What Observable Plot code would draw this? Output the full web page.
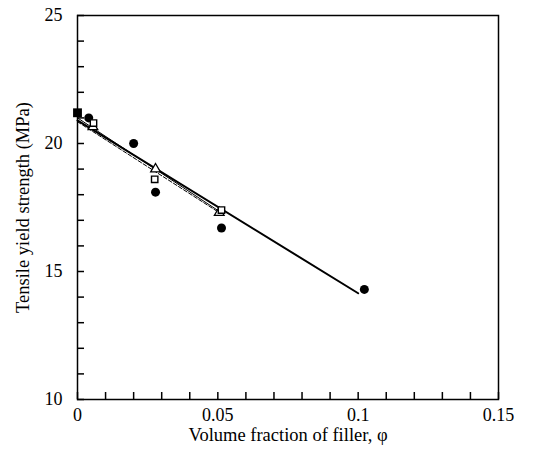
<!DOCTYPE html>
<html>
<head>
<meta charset="utf-8">
<script src="https://cdn.jsdelivr.net/npm/d3@7"></script>
<script src="https://cdn.jsdelivr.net/npm/@observablehq/plot@0.6"></script>
<style>
  html, body { margin: 0; padding: 0; background: #fff; }
  #chart svg { display: block; }
</style>
</head>
<body>
<div id="chart"></div>
<script>
// Data
const neatX = [0];
const neatY = [21.2];
const circleX = [0.004, 0.02, 0.0278, 0.0513, 0.1022];
const circleY = [21.0, 20.0, 18.1, 16.7, 14.3];
const squareX = [0.0057, 0.0275, 0.0513];
const squareY = [20.8, 18.6, 17.4];
const triangleX = [0.0055, 0.0278, 0.0505];
const triangleY = [20.65, 19.0, 17.3];
// Fitted lines (endpoints)
const fitCircleX = [0, 0.1];
const fitCircleY = [20.9, 14.15];
const fitSquareX = [0, 0.0505];
const fitSquareY = [21.0, 17.35];
const fitTriangleX = [0, 0.0505];
const fitTriangleY = [20.85, 17.3];
const xTickLabels = [0, 0.05, 0.1, 0.15];
const yTickLabels = [10, 15, 20, 25];
const xMinorTicks = d3.range(0, 16).map(i => i / 100);
const yMinorTicks = d3.range(10, 26);

const pts = (xs, ys) => xs.map((x, i) => ({x, y: ys[i]}));

const font = "'Liberation Serif', 'Times New Roman', serif";
const TICK = 7;
const xMin = xTickLabels[0], xMax = xTickLabels[xTickLabels.length - 1];
const yMin = yTickLabels[0], yMax = yTickLabels[yTickLabels.length - 1];
const plotW = 537 - 77 - 39, plotH = 476 - 15 - 77;
const tickLenY = TICK * (yMax - yMin) / plotH; // inward tick length in y units
const tickLenX = TICK * (xMax - xMin) / plotW; // inward tick length in x units

const chart = Plot.plot({
  width: 537,
  height: 476,
  marginLeft: 77,
  marginRight: 39,
  marginTop: 15,
  marginBottom: 77,
  style: {fontFamily: font, fontSize: "18px", color: "black", background: "white"},
  x: {domain: [xMin, xMax]},
  y: {domain: [yMin, yMax]},
  marks: [
    Plot.ruleX(xMinorTicks, {x: d => d, y1: yMin, y2: yMin + tickLenY, stroke: "black", strokeWidth: 1.5}),
    Plot.ruleY(yMinorTicks, {y: d => d, x1: xMin, x2: xMin + tickLenX, stroke: "black", strokeWidth: 1.5}),
    Plot.axisX({ticks: xTickLabels, tickSize: 0, tickPadding: 9, fontSize: 18, label: null, tickFormat: d => String(d), fill: "black"}),
    Plot.axisY({ticks: yTickLabels, tickSize: 0, tickPadding: 15, fontSize: 18, label: null, tickFormat: d => String(d), fill: "black"}),
    Plot.text(["Volume fraction of filler, φ"], {frameAnchor: "bottom", dy: 41, fontSize: 18.5, fill: "black"}),
    Plot.text(["Tensile yield strength (MPa)"], {frameAnchor: "left", textAnchor: "middle", dx: -54, rotate: -90, fontSize: 18.5, fill: "black"}),
    Plot.frame({stroke: "black", strokeWidth: 1.5}),
    Plot.line(pts(fitSquareX, fitSquareY), {x: "x", y: "y", stroke: "black", strokeWidth: 1}),
    Plot.line(pts(fitTriangleX, fitTriangleY), {x: "x", y: "y", stroke: "black", strokeWidth: 1, strokeDasharray: "4,2"}),
    Plot.line(pts(fitCircleX, fitCircleY), {x: "x", y: "y", stroke: "black", strokeWidth: 2}),
    Plot.dot(pts(circleX, circleY), {x: "x", y: "y", r: 4.5, fill: "black", stroke: "none"}),
    Plot.dot(pts(triangleX, triangleY), {x: "x", y: "y", symbol: "triangle", r: 3.6, fill: "white", stroke: "black", strokeWidth: 1.3}),
    Plot.dot(pts(squareX, squareY), {x: "x", y: "y", symbol: "square", r: 3.6, fill: "white", stroke: "black", strokeWidth: 1.4}),
    Plot.dot(pts(neatX, neatY), {x: "x", y: "y", symbol: "square", r: 5, fill: "black", stroke: "none"})
  ]
});
document.getElementById("chart").appendChild(chart);
</script>
</body>
</html>
